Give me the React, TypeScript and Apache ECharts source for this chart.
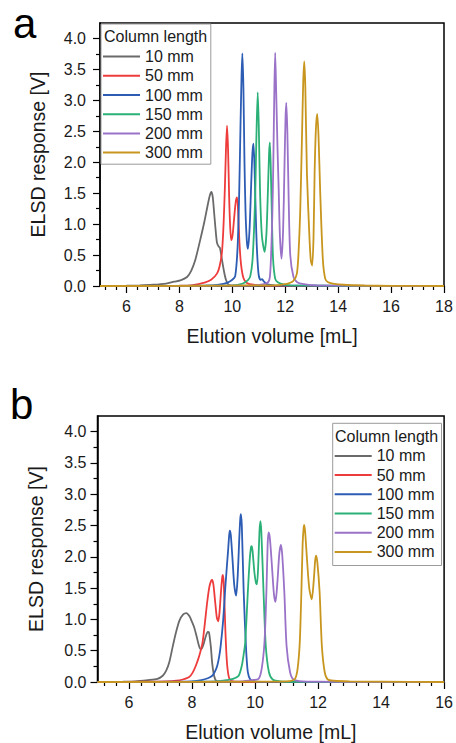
import React, { useEffect, useRef } from 'react';
import * as echarts from 'echarts';

const FONT = "'Liberation Sans', Arial, sans-serif";

const seriesNames = ['10 mm', '50 mm', '100 mm', '150 mm', '200 mm', '300 mm'];
const seriesColors = ['#6a6a6a', '#ee3b3b', '#2c5cb4', '#2bb077', '#9a72c8', '#c8961e'];
const legendTitle = 'Column length';

const xMajorA = [6, 8, 10, 12, 14, 16, 18];
const xMinorA = [5.2, 5.6, 6.4, 6.8, 7.2, 7.6, 8.4, 8.8, 9.2, 9.6, 10.4, 10.8, 11.2, 11.6, 12.4, 12.8, 13.2, 13.6, 14.4, 14.8, 15.2, 15.6, 16.4, 16.8, 17.2, 17.6];
const xMajorB = [6, 8, 10, 12, 14, 16];
const xMinorB = [5.2, 5.6, 6.4, 6.8, 7.2, 7.6, 8.4, 8.8, 9.2, 9.6, 10.4, 10.8, 11.2, 11.6, 12.4, 12.8, 13.2, 13.6, 14.4, 14.8, 15.2, 15.6];
const yMajor = [0, 0.5, 1, 1.5, 2, 2.5, 3, 3.5, 4];
const yMinor = [0.25, 0.75, 1.25, 1.75, 2.25, 2.75, 3.25, 3.75];

// Panel a
const a10 = [[5, 0], [6, 0.005], [6.5, 0.01], [7, 0.02], [7.5, 0.04], [7.8, 0.07], [8.04, 0.09], [8.29, 0.145], [8.45, 0.25], [8.6, 0.42], [8.79, 0.75], [8.95, 1.05], [9.08, 1.33], [9.16, 1.48], [9.21, 1.52], [9.26, 1.44], [9.31, 1.2], [9.36, 0.95], [9.42, 0.7], [9.48, 0.64], [9.53, 0.62], [9.6, 0.45], [9.68, 0.25], [9.76, 0.1], [9.86, 0.02], [10.1, 0.003], [18, 0]];
const a50 = [[5, 0], [8.0, 0.005], [8.5, 0.015], [8.98, 0.06], [9.2, 0.1], [9.42, 0.2], [9.52, 0.32], [9.61, 0.55], [9.67, 1.0], [9.72, 1.6], [9.76, 2.2], [9.8, 2.59], [9.84, 2.2], [9.88, 1.45], [9.92, 0.95], [9.96, 0.74], [10.01, 0.82], [10.07, 1.1], [10.13, 1.36], [10.18, 1.43], [10.22, 1.2], [10.27, 0.7], [10.33, 0.35], [10.42, 0.13], [10.55, 0.05], [10.8, 0.02], [11.5, 0.005], [18, 0]];
const a100 = [[5, 0], [9.0, 0.005], [9.5, 0.02], [9.8, 0.05], [10.0, 0.1], [10.11, 0.16], [10.2, 0.63], [10.26, 1.5], [10.31, 2.6], [10.35, 3.4], [10.38, 3.76], [10.42, 3.2], [10.46, 2.0], [10.5, 1.2], [10.55, 0.72], [10.59, 0.6], [10.65, 0.9], [10.71, 1.6], [10.76, 2.15], [10.8, 2.3], [10.84, 1.9], [10.89, 1.1], [10.93, 0.6], [10.99, 0.2], [11.06, 0.1], [11.13, 0.11], [11.18, 0.08], [11.3, 0.03], [11.6, 0.01], [18, 0]];
const a150 = [[5, 0], [10.0, 0.01], [10.4, 0.04], [10.6, 0.1], [10.68, 0.16], [10.76, 0.4], [10.82, 0.9], [10.87, 1.54], [10.91, 2.4], [10.96, 3.13], [11.0, 2.6], [11.05, 1.5], [11.12, 0.8], [11.22, 0.55], [11.29, 0.85], [11.35, 1.6], [11.39, 2.15], [11.42, 2.32], [11.46, 1.8], [11.5, 1.05], [11.54, 0.44], [11.62, 0.12], [11.72, 0.06], [11.9, 0.03], [12.2, 0.01], [18, 0]];
const a200 = [[5, 0], [10.8, 0.01], [11.2, 0.03], [11.37, 0.07], [11.42, 0.15], [11.46, 0.44], [11.51, 1.1], [11.55, 2.0], [11.59, 3.2], [11.62, 3.77], [11.66, 3.1], [11.71, 2.2], [11.75, 1.6], [11.8, 0.8], [11.86, 0.44], [11.92, 0.9], [11.97, 1.9], [12.01, 2.7], [12.04, 2.96], [12.08, 2.5], [12.13, 1.4], [12.19, 0.5], [12.31, 0.15], [12.45, 0.06], [12.7, 0.03], [13.2, 0.01], [18, 0]];
const a300 = [[5, 0], [11.5, 0.01], [12.0, 0.03], [12.3, 0.08], [12.44, 0.2], [12.51, 0.6], [12.57, 1.27], [12.63, 2.35], [12.68, 3.3], [12.72, 3.63], [12.76, 3.2], [12.82, 1.82], [12.92, 0.74], [12.97, 0.4], [13.02, 0.33], [13.07, 0.8], [13.11, 1.82], [13.16, 2.55], [13.21, 2.78], [13.26, 2.4], [13.32, 1.54], [13.42, 0.44], [13.51, 0.12], [13.62, 0.06], [13.8, 0.04], [14.2, 0.02], [15.0, 0.008], [16, 0.002], [18, 0]];

// Panel b
const b10 = [[5, 0], [5.8, 0.005], [6.2, 0.01], [6.6, 0.03], [6.9, 0.05], [7.07, 0.1], [7.18, 0.18], [7.28, 0.32], [7.38, 0.55], [7.49, 0.79], [7.6, 0.98], [7.72, 1.08], [7.82, 1.1], [7.92, 1.05], [8.0, 0.96], [8.07, 0.87], [8.15, 0.72], [8.22, 0.58], [8.28, 0.52], [8.35, 0.58], [8.43, 0.72], [8.5, 0.8], [8.54, 0.79], [8.6, 0.55], [8.64, 0.3], [8.7, 0.1], [8.77, 0.02], [9.0, 0.003], [16, 0]];
const b50 = [[5, 0], [6.5, 0.005], [7.2, 0.01], [7.5, 0.02], [7.7, 0.04], [7.91, 0.08], [8.02, 0.15], [8.12, 0.26], [8.23, 0.42], [8.33, 0.62], [8.41, 0.95], [8.48, 1.27], [8.55, 1.52], [8.61, 1.62], [8.64, 1.63], [8.68, 1.55], [8.74, 1.25], [8.79, 1.02], [8.83, 0.97], [8.87, 1.1], [8.92, 1.45], [8.96, 1.68], [8.98, 1.71], [9.01, 1.55], [9.06, 0.8], [9.11, 0.3], [9.18, 0.06], [9.3, 0.01], [9.6, 0.003], [16, 0]];
const b100 = [[5, 0], [7.5, 0.005], [8.0, 0.01], [8.3, 0.03], [8.5, 0.06], [8.64, 0.1], [8.73, 0.17], [8.8, 0.26], [8.86, 0.4], [8.91, 0.58], [8.99, 1.0], [9.06, 1.54], [9.14, 2.07], [9.18, 2.35], [9.2, 2.42], [9.23, 2.35], [9.28, 2.0], [9.34, 1.55], [9.4, 1.38], [9.45, 1.7], [9.5, 2.3], [9.53, 2.6], [9.55, 2.68], [9.58, 2.5], [9.64, 1.43], [9.71, 0.58], [9.77, 0.16], [9.85, 0.04], [10.0, 0.01], [10.3, 0.003], [16, 0]];
const b150 = [[5, 0], [8.0, 0.005], [8.8, 0.01], [9.1, 0.03], [9.3, 0.05], [9.48, 0.1], [9.58, 0.26], [9.65, 0.48], [9.69, 0.64], [9.77, 1.43], [9.83, 1.95], [9.87, 2.15], [9.89, 2.17], [9.92, 2.1], [9.98, 1.75], [10.03, 1.58], [10.06, 1.56], [10.1, 1.85], [10.14, 2.4], [10.17, 2.57], [10.2, 2.4], [10.27, 1.43], [10.34, 0.58], [10.44, 0.16], [10.56, 0.04], [10.8, 0.01], [11.2, 0.003], [16, 0]];
const b200 = [[5, 0], [9.0, 0.005], [9.6, 0.01], [9.9, 0.03], [10.11, 0.05], [10.21, 0.21], [10.3, 0.64], [10.36, 1.43], [10.4, 2.2], [10.43, 2.39], [10.47, 2.3], [10.53, 1.9], [10.6, 1.4], [10.65, 1.28], [10.71, 1.6], [10.77, 2.05], [10.82, 2.19], [10.86, 2.05], [10.93, 1.43], [11.0, 0.58], [11.11, 0.16], [11.22, 0.04], [11.5, 0.01], [12.0, 0.005], [13.0, 0.002], [16, 0]];
const b300 = [[5, 0], [10.5, 0.005], [11.0, 0.01], [11.15, 0.02], [11.27, 0.05], [11.35, 0.21], [11.42, 0.64], [11.47, 1.43], [11.51, 2.2], [11.54, 2.45], [11.56, 2.51], [11.59, 2.4], [11.65, 1.95], [11.72, 1.5], [11.8, 1.32], [11.86, 1.6], [11.91, 1.95], [11.94, 2.02], [11.98, 1.9], [12.05, 1.43], [12.12, 0.58], [12.21, 0.16], [12.31, 0.04], [12.5, 0.02], [13.0, 0.01], [14.0, 0.005], [16, 0]];

const panelA = [a10, a50, a100, a150, a200, a300];
const panelB = [b10, b50, b100, b150, b200, b300];

const AXIS_COLOR = '#000';
const TEXT_COLOR = '#1a1a1a';

function majorX(gridIndex: number, min: number, max: number, ticks: number[]) {
  return {
    type: 'value', gridIndex, min, max, position: 'bottom',
    name: 'Elution volume [mL]', nameLocation: 'middle', nameGap: 40,
    nameTextStyle: { fontSize: 19.5, color: TEXT_COLOR, fontFamily: FONT },
    axisLine: { show: true, onZero: false, lineStyle: { color: AXIS_COLOR, width: 1.5 } },
    axisTick: { show: true, inside: false, length: 7, customValues: ticks, lineStyle: { color: AXIS_COLOR, width: 1.2 } },
    axisLabel: { show: true, customValues: ticks, margin: 12.5, fontSize: 16, color: TEXT_COLOR, fontFamily: FONT, formatter: (v: number) => String(v) },
    splitLine: { show: false },
  };
}
function minorX(gridIndex: number, min: number, max: number, ticks: number[]) {
  return {
    type: 'value', gridIndex, min, max, position: 'bottom',
    axisLine: { show: false, onZero: false },
    axisTick: { show: true, inside: false, length: 4, customValues: ticks, lineStyle: { color: AXIS_COLOR, width: 1.2 } },
    axisLabel: { show: false },
    splitLine: { show: false },
  };
}
function majorY(gridIndex: number, margin: number) {
  return {
    type: 'value', gridIndex, min: 0, max: 4.25, position: 'left',
    name: 'ELSD response [V]', nameLocation: 'middle', nameGap: 52,
    nameTextStyle: { fontSize: 19.5, color: TEXT_COLOR, fontFamily: FONT },
    axisLine: { show: true, onZero: false, lineStyle: { color: AXIS_COLOR, width: 1.5 } },
    axisTick: { show: true, inside: false, length: 7, customValues: yMajor, lineStyle: { color: AXIS_COLOR, width: 1.2 } },
    axisLabel: { show: true, customValues: yMajor, margin, fontSize: 16, color: TEXT_COLOR, fontFamily: FONT, formatter: (v: number) => v.toFixed(1) },
    splitLine: { show: false },
  };
}
function minorY(gridIndex: number) {
  return {
    type: 'value', gridIndex, min: 0, max: 4.25, position: 'left',
    axisLine: { show: false, onZero: false },
    axisTick: { show: true, inside: false, length: 4, customValues: yMinor, lineStyle: { color: AXIS_COLOR, width: 1.2 } },
    axisLabel: { show: false },
    splitLine: { show: false },
  };
}

function legendFor(left: number, top: number, padding: number[]) {
  return {
    show: true, orient: 'vertical', left, top, padding,
    data: seriesNames, selectedMode: false,
    icon: 'rect', itemWidth: 37, itemHeight: 2, itemGap: 0,
    borderColor: '#9a9a9a', borderWidth: 1, backgroundColor: '#fff',
    textStyle: { fontSize: 16, color: TEXT_COLOR, fontFamily: FONT, lineHeight: 19.2 },
  };
}

export default function App() {
  const ref = useRef<HTMLDivElement>(null);
  useEffect(() => {
    if (!ref.current) return;
    const chart = echarts.init(ref.current, undefined, { renderer: 'svg' });
    const series: any[] = [];
    panelA.forEach((d, i) => series.push({
      type: 'line', name: seriesNames[i], data: d, xAxisIndex: 0, yAxisIndex: 0,
      showSymbol: false, symbol: 'none', smooth: 0.25, color: seriesColors[i],
      lineStyle: { color: seriesColors[i], width: 1.8 }, silent: true, z: 2 + i,
    }));
    panelB.forEach((d, i) => series.push({
      type: 'line', name: seriesNames[i], data: d, xAxisIndex: 2, yAxisIndex: 2,
      showSymbol: false, symbol: 'none', smooth: 0.25, color: seriesColors[i],
      lineStyle: { color: seriesColors[i], width: 1.8 }, silent: true, z: 2 + i,
    }));
    chart.setOption({
      animation: false,
      backgroundColor: '#fff',
      textStyle: { fontFamily: FONT },
      grid: [
        { left: 100, top: 23, right: 12, height: 263, show: true, borderColor: '#000', borderWidth: 1.5, backgroundColor: 'transparent', containLabel: false },
        { left: 97.5, top: 416, right: 9, height: 267.5, show: true, borderColor: '#000', borderWidth: 1.5, backgroundColor: 'transparent', containLabel: false },
      ],
      xAxis: [
        majorX(0, 5, 18, xMajorA),
        minorX(0, 5, 18, xMinorA),
        majorX(1, 5, 16, xMajorB),
        minorX(1, 5, 16, xMinorB),
      ],
      yAxis: [
        majorY(0, 14),
        minorY(0),
        majorY(1, 11),
        minorY(1),
      ],
      legend: [
        legendFor(101, 24, [23, 8, 2, 2]),
        legendFor(332.7, 423.3, [23, 7, 4, 2]),
      ],
      graphic: [
        { type: 'text', left: 13, top: 2, z: 100, style: { text: 'a', fontSize: 42, fill: '#000', fontFamily: FONT } },
        { type: 'text', left: 10, top: 383, z: 100, style: { text: 'b', fontSize: 42, fill: '#000', fontFamily: FONT } },
        { type: 'text', left: 104, top: 28, z: 100, style: { text: legendTitle, fontSize: 16, fill: TEXT_COLOR, fontFamily: FONT } },
        { type: 'text', left: 335, top: 428.5, z: 100, style: { text: legendTitle, fontSize: 16, fill: TEXT_COLOR, fontFamily: FONT } },
      ],
      series,
    });
    return () => chart.dispose();
  }, []);
  return <div ref={ref} style={{ position: 'absolute', left: 0, top: 0, width: 456, height: 743 }} />;
}
